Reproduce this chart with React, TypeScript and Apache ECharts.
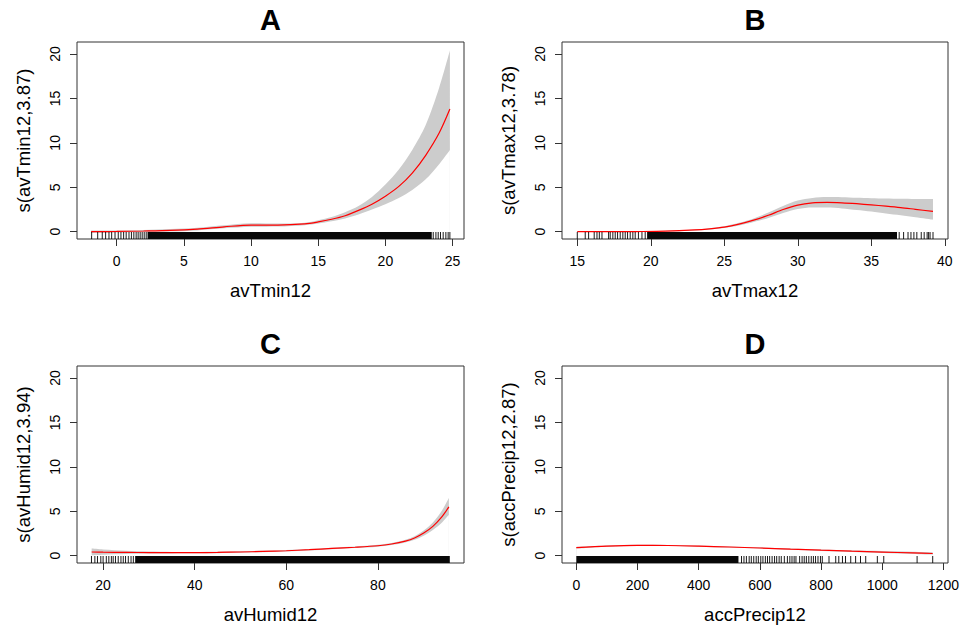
import React, { useEffect, useRef } from "react";
import * as echarts from "echarts";

const FONT = "'Liberation Sans', Arial, Helvetica, sans-serif";

const panelTitles = ["A", "B", "C", "D"];
const xNames = ["avTmin12", "avTmax12", "avHumid12", "accPrecip12"];
const yNames = ["s(avTmin12,3.87)", "s(avTmax12,3.78)", "s(avHumid12,3.94)", "s(accPrecip12,2.87)"];

const yTicks = [0, 5, 10, 15, 20];
const xTicksA = [0, 5, 10, 15, 20, 25];
const xTicksB = [15, 20, 25, 30, 35, 40];
const xTicksC = [20, 40, 60, 80];
const xTicksD = [0, 200, 400, 600, 800, 1000, 1200];

// Panel A: avTmin12
const xA = [-1.9, 0, 2, 4, 6, 8, 10, 12, 14, 15, 16, 17, 18, 19, 20, 21, 22, 23, 24, 24.8];
const fitA = [0.0, 0.03, 0.08, 0.15, 0.3, 0.55, 0.75, 0.75, 0.88, 1.1, 1.4, 1.8, 2.4, 3.1, 4.0, 5.1, 6.6, 8.6, 11.1, 13.8];
const upA = [0.15, 0.15, 0.2, 0.3, 0.45, 0.72, 0.95, 0.92, 1.02, 1.3, 1.65, 2.2, 2.9, 3.9, 5.3, 7.0, 9.2, 12.0, 16.2, 20.4];
const loA = [-0.15, -0.1, -0.04, 0.02, 0.15, 0.38, 0.55, 0.58, 0.74, 0.92, 1.18, 1.5, 1.95, 2.5, 3.1, 3.8, 4.7, 5.9, 7.6, 9.2];
const rugSparseA = [-1.86, -1.41, -1.07, -0.82, -0.57, -0.37, -0.12, 0.12, 0.32, 0.52, 0.71, 0.92, 1.1, 1.28, 1.45, 1.6, 1.75, 1.9, 2.05, 2.2, 23.56, 23.76, 23.93, 24.1, 24.3, 24.5, 24.67, 24.8];
const rugDenseA = [[2.3, 23.45]];

// Panel B: avTmax12
const xB = [15, 17, 19, 21, 23, 24, 25, 26, 27, 28, 29, 30, 31, 32, 33, 34, 35, 36, 37, 38, 39.2];
const fitB = [0.0, 0.0, 0.02, 0.06, 0.2, 0.33, 0.52, 0.85, 1.3, 1.85, 2.5, 3.0, 3.25, 3.3, 3.25, 3.15, 3.02, 2.88, 2.72, 2.52, 2.28];
const upB = [0.05, 0.05, 0.07, 0.1, 0.25, 0.4, 0.62, 1.0, 1.5, 2.15, 2.9, 3.5, 3.8, 3.9, 3.88, 3.82, 3.77, 3.73, 3.7, 3.68, 3.68];
const loB = [-0.05, -0.04, -0.02, 0.02, 0.15, 0.26, 0.42, 0.7, 1.1, 1.55, 2.1, 2.55, 2.72, 2.72, 2.62, 2.45, 2.27, 2.05, 1.85, 1.62, 1.35];
const rugSparseB = [15.0, 15.54, 15.77, 16.15, 16.34, 16.5, 16.68, 17.13, 17.24, 17.42, 17.58, 17.74, 17.92, 18.1, 18.26, 18.42, 18.6, 18.78, 18.94, 19.16, 19.4, 19.62, 36.9, 37.2, 37.5, 37.7, 37.9, 38.1, 38.4, 38.6, 38.8, 38.9, 39.0, 39.2];
const rugDenseB = [[19.75, 36.75]];

// Panel C: avHumid12
const xC = [17.5, 20, 25, 30, 35, 40, 45, 50, 55, 60, 65, 70, 75, 80, 83, 86, 88, 90, 92, 94, 95.5];
const fitC = [0.42, 0.4, 0.37, 0.35, 0.34, 0.35, 0.37, 0.42, 0.48, 0.56, 0.68, 0.82, 0.95, 1.12, 1.32, 1.65, 2.0, 2.55, 3.3, 4.4, 5.5];
const upC = [0.8, 0.7, 0.55, 0.47, 0.43, 0.43, 0.45, 0.5, 0.56, 0.64, 0.76, 0.9, 1.03, 1.22, 1.44, 1.8, 2.2, 2.85, 3.75, 5.1, 6.5];
const loC = [0.05, 0.12, 0.2, 0.24, 0.26, 0.27, 0.29, 0.34, 0.4, 0.48, 0.6, 0.74, 0.87, 1.02, 1.2, 1.5, 1.8, 2.25, 2.9, 3.75, 4.6];
const rugSparseC = [17.46, 18.2, 18.77, 19.5, 20.0, 20.7, 21.25, 21.8, 22.2, 22.7, 23.3, 23.9, 24.4, 24.9, 25.5, 26.1, 26.6];
const rugDenseC = [[27.0, 95.7]];

// Panel D: accPrecip12
const xD = [0, 100, 200, 300, 400, 500, 600, 700, 800, 900, 1000, 1100, 1165];
const fitD = [0.9, 1.08, 1.16, 1.15, 1.08, 0.98, 0.87, 0.74, 0.62, 0.51, 0.41, 0.31, 0.25];
const upD = [1.0, 1.15, 1.22, 1.21, 1.14, 1.04, 0.94, 0.82, 0.71, 0.61, 0.52, 0.44, 0.39];
const loD = [0.8, 1.01, 1.1, 1.09, 1.02, 0.92, 0.8, 0.66, 0.53, 0.41, 0.3, 0.18, 0.11];
const rugSparseD = [540, 548, 556, 565, 572, 580, 588, 595, 603, 610, 618, 625, 632, 640, 648, 655, 663, 670, 680, 690, 698, 705, 712, 718, 730, 738, 745, 752, 760, 768, 775, 782, 790, 798, 804, 826, 848, 858, 870, 880, 897, 913, 929, 946, 984, 1005, 1114, 1165];
const rugDenseD = [[0, 530]];

const Y_MIN = -0.82;
const Y_MAX = 21.35;
const AREA_BASE = -0.7;
const RUG_LEN = 7;
const SMOOTH = 0.3;

type Panel = {
  x: number[]; fit: number[]; up: number[]; lo: number[];
  rugSparse: number[]; rugDense: number[][]; xTicks: number[];
  xMin: number; xMax: number;
  grid: { left: number; top: number; width: number; height: number };
};

const panels: Panel[] = [
  { x: xA, fit: fitA, up: upA, lo: loA, rugSparse: rugSparseA, rugDense: rugDenseA, xTicks: xTicksA, xMin: -2.95, xMax: 25.85, grid: { left: 77, top: 42, width: 387, height: 197 } },
  { x: xB, fit: fitB, up: upB, lo: loB, rugSparse: rugSparseB, rugDense: rugDenseB, xTicks: xTicksB, xMin: 13.96, xMax: 40.22, grid: { left: 562, top: 42, width: 386, height: 197 } },
  { x: xC, fit: fitC, up: upC, lo: loC, rugSparse: rugSparseC, rugDense: rugDenseC, xTicks: xTicksC, xMin: 14.3, xMax: 98.8, grid: { left: 77, top: 366, width: 387, height: 197 } },
  { x: xD, fit: fitD, up: upD, lo: loD, rugSparse: rugSparseD, rugDense: rugDenseD, xTicks: xTicksD, xMin: -46.8, xMax: 1215, grid: { left: 562, top: 366, width: 386, height: 197 } },
];

function buildOption() {
  const grids: any[] = [];
  const xAxes: any[] = [];
  const yAxes: any[] = [];
  const series: any[] = [];
  const graphics: any[] = [];

  panels.forEach((p, i) => {
    grids.push({ ...p.grid, show: true, borderColor: "#333", borderWidth: 1, backgroundColor: "transparent", containLabel: false });
    xAxes.push({
      gridIndex: i, type: "value", min: p.xMin, max: p.xMax,
      axisLine: { show: false, onZero: false }, splitLine: { show: false },
      axisTick: { show: true, length: 7, lineStyle: { color: "#333", width: 1 }, customValues: p.xTicks },
      axisLabel: { fontSize: 14, color: "#000", fontFamily: FONT, margin: 15, customValues: p.xTicks, formatter: (v: number) => String(v) },
      name: xNames[i], nameLocation: "middle", nameGap: 42,
      nameTextStyle: { fontSize: 18.5, color: "#000", fontFamily: FONT },
    });
    yAxes.push({
      gridIndex: i, type: "value", min: Y_MIN, max: Y_MAX,
      axisLine: { show: false, onZero: false }, splitLine: { show: false },
      axisTick: { show: true, length: 7, lineStyle: { color: "#333", width: 1 }, customValues: yTicks },
      axisLabel: { fontSize: 14, color: "#000", fontFamily: FONT, margin: 15, rotate: 90, customValues: yTicks, formatter: (v: number) => String(v) },
      name: yNames[i], nameLocation: "middle", nameGap: 44, nameRotate: 90,
      nameTextStyle: { fontSize: 18.5, color: "#000", fontFamily: FONT },
    });

    // confidence band: grey area under the upper bound, white area under the lower bound
    series.push({
      type: "line", xAxisIndex: i, yAxisIndex: i,
      data: p.x.map((x, k) => [x, p.up[k]]), smooth: SMOOTH, symbol: "none", silent: true,
      lineStyle: { width: 0, opacity: 0 }, areaStyle: { color: "#cccccc", opacity: 1, origin: AREA_BASE }, z: 1,
    });
    series.push({
      type: "line", xAxisIndex: i, yAxisIndex: i,
      data: p.x.map((x, k) => [x, p.lo[k]]), smooth: SMOOTH, symbol: "none", silent: true,
      lineStyle: { width: 0, opacity: 0 }, areaStyle: { color: "#ffffff", opacity: 1, origin: AREA_BASE }, z: 2,
    });
    series.push({
      type: "line", xAxisIndex: i, yAxisIndex: i,
      data: p.x.map((x, k) => [x, p.fit[k]]), smooth: SMOOTH, symbol: "none", silent: true,
      lineStyle: { color: "#ff0000", width: 1.2 }, z: 3,
    });
    series.push({
      type: "custom", xAxisIndex: i, yAxisIndex: i, silent: true, z: 4,
      data: p.rugSparse.map((v) => [v, Y_MIN]),
      encode: { x: 0, y: 1 },
      renderItem: (params: any, api: any) => {
        const pt = api.coord([api.value(0), Y_MIN]);
        return {
          type: "line",
          shape: { x1: pt[0], y1: pt[1], x2: pt[0], y2: pt[1] - RUG_LEN },
          style: { stroke: "#000", lineWidth: 0.9 },
        };
      },
    });
    series.push({
      type: "custom", xAxisIndex: i, yAxisIndex: i, silent: true, z: 4,
      data: p.rugDense.map((r) => [r[0], r[1], Y_MIN]),
      encode: { x: [0, 1], y: 2 },
      renderItem: (params: any, api: any) => {
        const a = api.coord([api.value(0), Y_MIN]);
        const b = api.coord([api.value(1), Y_MIN]);
        return {
          type: "rect",
          shape: { x: a[0], y: a[1] - RUG_LEN, width: b[0] - a[0], height: RUG_LEN },
          style: { fill: "#080808" },
        };
      },
    });

    graphics.push({
      type: "text",
      x: p.grid.left + p.grid.width / 2,
      y: p.grid.top - 22,
      style: {
        text: panelTitles[i], fill: "#000",
        font: `bold 29px ${FONT}`,
        textAlign: "center", textVerticalAlign: "middle",
      },
    });
  });

  return {
    animation: false,
    backgroundColor: "#ffffff",
    grid: grids,
    xAxis: xAxes,
    yAxis: yAxes,
    series,
    graphic: graphics,
  };
}

export default function App() {
  const ref = useRef<HTMLDivElement>(null);
  useEffect(() => {
    if (!ref.current) return;
    const chart = echarts.init(ref.current, null, { renderer: "svg" });
    chart.setOption(buildOption() as any);
    return () => chart.dispose();
  }, []);
  return (
    <div
      ref={ref}
      style={{ position: "fixed", left: 0, top: 0, width: 966, height: 632, background: "#fff" }}
    />
  );
}
